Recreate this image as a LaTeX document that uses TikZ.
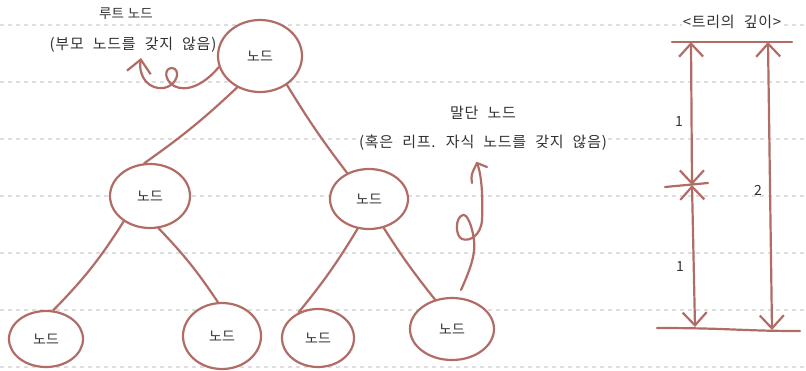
\documentclass[tikz,border=0pt]{standalone}
\usepackage{fontspec}
\newfontfamily\kr{Noto Sans CJK KR}
\newfontfamily\krs[LetterSpace=5,WordSpace=2.2]{Noto Sans CJK KR}
\usetikzlibrary{shapes.geometric,arrows.meta}
\definecolor{ink}{RGB}{178,108,102}
\definecolor{txt}{RGB}{50,50,50}
\definecolor{gridc}{RGB}{222,222,222}
\tikzset{mybarb/.tip={Straight Barb[length=13pt,width=24pt]}}
\begin{document}
\begin{tikzpicture}[x=1pt,y=-1pt,
  treenode/.style={ellipse, draw=ink, line width=2.2pt, fill=white, inner sep=0pt,
    font=\kr\fontsize{14}{16}\selectfont, text=txt},
  link/.style={draw=ink, line width=2.2pt, line cap=round, line join=round},
  txtlabel/.style={font=\krs\fontsize{15}{17}\selectfont, text=txt, fill=white, inner sep=0.5pt},
  numlabel/.style={font=\kr\fontsize{14}{16}\selectfont, text=txt},
  gridline/.style={draw=gridc, line width=1.2pt, dash pattern=on 4pt off 4pt}]
\useasboundingbox (0,0) rectangle (806,370);
\fill[white] (0,0) rectangle (806,370);
% notebook lines
\foreach \yy in {25,82,139,196,253,310,367}
  \draw[gridline] (0,\yy) -- (806,\yy);

% labels (drawn first so node outlines stay on top)
\node[txtlabel, font=\kr\fontsize{13.5}{15}\selectfont] (rootT) at (126,14) {루트\hspace{4pt}노드};
\node[txtlabel] (rootS) at (133,45) {(부모 노드를 갖지 않음)};
\node[txtlabel] (leafT) at (483,113) {말단 노드};
\node[txtlabel] (leafS) at (483,143) {(혹은 리프. 자식 노드를 갖지 않음)};
\node[txtlabel] (depthT) at (732,22) {<트리의 깊이>};

% tree nodes
\node[treenode, minimum width=84pt, minimum height=72pt] (root) at (260,56) {노드};
\node[treenode, minimum width=80pt, minimum height=64pt] (lm) at (150,196) {노드};
\node[treenode, minimum width=78pt, minimum height=60pt] (rm) at (369,199) {노드};
\node[treenode, minimum width=74pt, minimum height=56pt] (ll) at (46,339) {노드};
\node[treenode, minimum width=78pt, minimum height=66pt] (lr) at (222,336) {노드};
\node[treenode, minimum width=72pt, minimum height=58pt] (rl) at (318,338) {노드};
\node[treenode, minimum width=84pt, minimum height=62pt] (rr) at (452,329) {노드};

% tree edges
\draw[link] (root.234) to[bend left=4] (lm.100);
\draw[link] (root.313) to[bend right=3] (rm.130);
\draw[link] (lm.224) to[bend left=6] (ll.76);
\draw[link] (lm.285) to[bend left=5] (lr.97);
\draw[link] (rm.249) to[bend left=4] (rl.127);
\draw[link] (rm.297) to[bend right=3] (rr.120);

% root annotation arrow
\coordinate (rootTip) at (141,58);
\draw[link, -{mybarb}] (root.195) .. controls (203,86) and (186,92) .. (174,86)
  .. controls (164,80) and (164,68) .. (172,68)
  .. controls (181,69) and (178,85) .. (164,88)
  .. controls (150,90) and (138,78) .. (rootTip);

% leaf annotation arrow
\coordinate (leafStart) at (461,290);
\coordinate (leafTip) at (477,163);
\coordinate (leafBarbL) at (472,183);
\coordinate (leafBarbR) at (487,167);
\draw[link] (leafStart) .. controls (469,272) and (476,255) .. (474,240)
  .. controls (472,225) and (467,214) .. (463,215)
  .. controls (455,217) and (455,236) .. (462,239)
  .. controls (470,242) and (481,235) .. (482,220)
  .. controls (483,200) and (482,175) .. (leafTip);
\draw[link] (leafBarbL) .. controls (471,175) .. (leafTip) -- (leafBarbR);

% depth diagram
\coordinate (tl) at (672,42);
\coordinate (tr) at (792,42);
\coordinate (bl) at (657,328);
\coordinate (br) at (800,331);
\coordinate (ml) at (665,187);
\coordinate (mr) at (708,183);
\coordinate (a1) at (691,42);
\coordinate (a2) at (692,185);
\coordinate (a3) at (695,327);
\coordinate (b1) at (768,42);
\coordinate (b2) at (772,330);
\draw[link] (tl) -- (tr);
\draw[link] (bl) .. controls (730,328) and (740,331) .. (br);
\draw[link] (ml) -- (mr);
\draw[link, {mybarb}-{mybarb}] (a1) -- (a2);
\draw[link, {mybarb}-{mybarb}] (a2) -- (a3);
\draw[link, {mybarb}-{mybarb}] (b1) -- (b2);
\node[numlabel] (d1) at (679,122) {1};
\node[numlabel] (d2) at (680,267) {1};
\node[numlabel] (d3) at (758,190) {2};
\end{tikzpicture}
\end{document}
